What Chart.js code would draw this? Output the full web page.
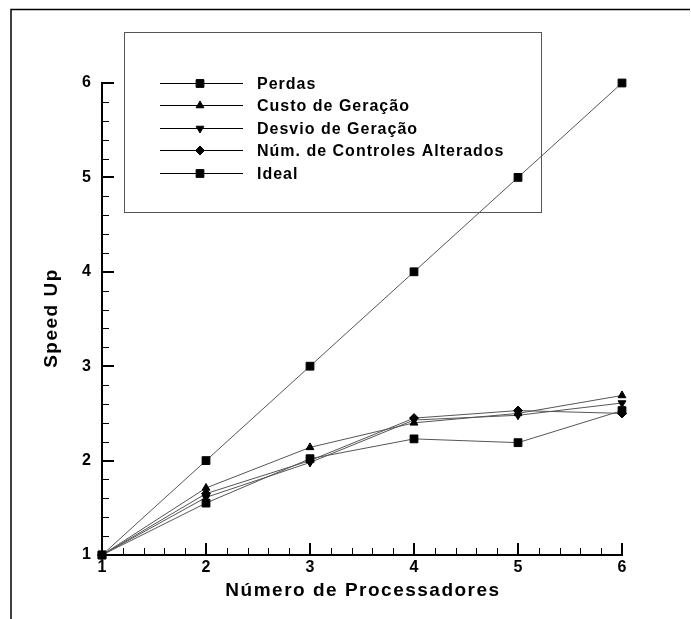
<!DOCTYPE html>
<html>
<head>
<meta charset="utf-8">
<script src="https://cdn.jsdelivr.net/npm/chart.js"></script>
<style>
  body { margin: 0; background: #fff; }
  canvas { display: block; }
</style>
</head>
<body>
<canvas id="speedChart" width="691" height="619"></canvas>
<script>
// Speed up data
var processadores = [1, 2, 3, 4, 5, 6];
var perdas = [1, 1.55, 2.02, 2.23, 2.19, 2.53];
var custoGeracao = [1, 1.71, 2.14, 2.40, 2.50, 2.69];
var desvioGeracao = [1, 1.61, 1.98, 2.43, 2.48, 2.61];
var numControles = [1, 1.65, 2.00, 2.45, 2.53, 2.50];
var ideal = [1, 2, 3, 4, 5, 6];
var yTicks = [1, 2, 3, 4, 5, 6];

function pts(values) {
  return processadores.map(function(p, i) { return { x: p, y: values[i] }; });
}

function serie(label, values, style, radius, rotation) {
  return {
    label: label,
    data: pts(values),
    borderColor: '#555',
    borderWidth: 1,
    pointStyle: style,
    pointRadius: radius,
    pointRotation: rotation || 0,
    pointBackgroundColor: '#000',
    pointBorderColor: '#000',
    pointBorderWidth: 1,
    clip: false
  };
}

// Frame, inward ticks, titles and legend box
var extras = {
  id: 'extras',
  afterDraw: function(chart) {
    var ctx = chart.ctx;
    var xs = chart.scales.x, ys = chart.scales.y;
    var area = chart.chartArea;
    ctx.save();

    // outer frame (top + left)
    ctx.strokeStyle = '#000';
    ctx.lineWidth = 1.5;
    ctx.beginPath();
    ctx.moveTo(11, 619);
    ctx.lineTo(11, 9.5);
    ctx.lineTo(690, 9.5);
    ctx.stroke();

    // ticks pointing into the plot
    for (var i = 0; i <= 25; i++) {
      var v = 1 + i * 0.2;
      var major = i % 5 === 0;
      var len = major ? 12 : 7;
      ctx.lineWidth = major ? 2 : 1;
      var px = Math.round(xs.getPixelForValue(v)) + (major ? 0 : 0.5);
      ctx.beginPath();
      ctx.moveTo(px, area.bottom);
      ctx.lineTo(px, area.bottom - len);
      ctx.stroke();
      var py = Math.round(ys.getPixelForValue(v)) + (major ? 0 : 0.5);
      ctx.beginPath();
      ctx.moveTo(area.left, py);
      ctx.lineTo(area.left + len, py);
      ctx.stroke();
    }

    // axis titles
    ctx.fillStyle = '#000';
    ctx.font = 'bold 19px "Liberation Sans", Arial, sans-serif';
    ctx.letterSpacing = '1.5px';
    ctx.textAlign = 'center';
    ctx.textBaseline = 'alphabetic';
    ctx.fillText('Número de Processadores', (area.left + area.right) / 2 + 1, 596);
    ctx.save();
    ctx.translate(57, (area.top + area.bottom) / 2);
    ctx.rotate(-Math.PI / 2);
    ctx.fillText('Speed Up', 1, 0);
    ctx.restore();

    // legend
    ctx.strokeStyle = '#555';
    ctx.lineWidth = 1;
    ctx.strokeRect(124.5, 32.5, 417, 180);
    var rows = [83, 105, 128, 150, 173];
    ctx.font = 'bold 16px "Liberation Sans", Arial, sans-serif';
    ctx.letterSpacing = '1px';
    ctx.textAlign = 'left';
    chart.data.datasets.forEach(function(ds, k) {
      var ry = rows[k];
      ctx.strokeStyle = '#000';
      ctx.lineWidth = 1;
      ctx.beginPath();
      ctx.moveTo(160, ry + 0.5);
      ctx.lineTo(243, ry + 0.5);
      ctx.stroke();
      ctx.fillStyle = '#000';
      Chart.helpers.drawPoint(ctx, {
        pointStyle: ds.pointStyle,
        radius: ds.pointRadius,
        rotation: ds.pointRotation,
        borderWidth: 1
      }, 200, ry + 0.5);
      ctx.fillText(ds.label, 257, ry + 6);
    });
    ctx.restore();
  }
};

var ctx = document.getElementById('speedChart').getContext('2d');
var speedChart = new Chart(ctx, {
  type: 'line',
  data: {
    datasets: [
      serie('Perdas', perdas, 'rect', 5.5),
      serie('Custo de Geração', custoGeracao, 'triangle', 4.5),
      serie('Desvio de Geração', desvioGeracao, 'triangle', 4.5, 180),
      serie('Núm. de Controles Alterados', numControles, 'rectRot', 4.5),
      serie('Ideal', ideal, 'rect', 5.5)
    ]
  },
  options: {
    responsive: false,
    animation: false,
    layout: { padding: { top: 83, right: 69, bottom: 0, left: 0 } },
    plugins: {
      legend: { display: false },
      tooltip: { enabled: false }
    },
    scales: {
      x: {
        type: 'linear',
        min: 1,
        max: 6,
        afterFit: function(s) { s.height = 64; },
        afterBuildTicks: function(s) { s.ticks = processadores.map(function(v) { return { value: v }; }); },
        grid: { display: false, drawTicks: false },
        border: { display: true, color: '#000', width: 2 },
        ticks: {
          padding: 3,
          color: '#000',
          font: { family: '"Liberation Sans", Arial, sans-serif', size: 16, weight: 'bold' }
        }
      },
      y: {
        type: 'linear',
        min: 1,
        max: 6,
        afterFit: function(s) { s.width = 102; },
        afterBuildTicks: function(s) { s.ticks = yTicks.map(function(v) { return { value: v }; }); },
        grid: { display: false, drawTicks: false },
        border: { display: true, color: '#000', width: 2 },
        ticks: {
          padding: 11,
          color: '#000',
          font: { family: '"Liberation Sans", Arial, sans-serif', size: 16, weight: 'bold' }
        }
      }
    }
  },
  plugins: [extras]
});
</script>
</body>
</html>
